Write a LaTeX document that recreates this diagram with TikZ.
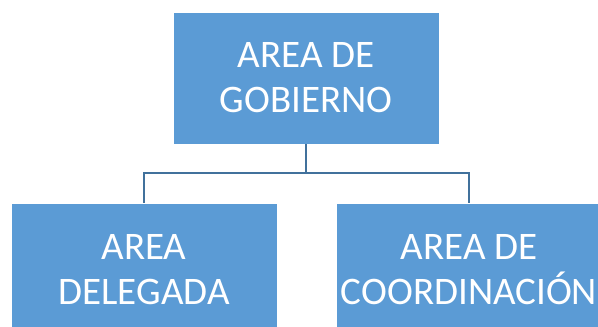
\documentclass[tikz,border=0pt]{standalone}
\usepackage{fontspec}
\setmainfont{Carlito}
\usetikzlibrary{positioning}

\definecolor{boxblue}{HTML}{5B9BD5}
\definecolor{linkblue}{HTML}{41719C}

\tikzset{
	area/.style={rectangle, fill=boxblue, draw=white, line width=0.6pt, text=white,
		minimum width=266pt, minimum height=132pt, align=center,
		font=\fontsize{39}{45}\selectfont},
	link/.style={draw=linkblue, line width=2pt}
}

\begin{document}
\begin{tikzpicture}[x=1pt, y=1pt]
	\useasboundingbox (0,0) rectangle (598,-327);
	\node[area] (gob) at (306,-78) {AREA DE\\GOBIERNO};
		\node[area, below=59pt of gob, xshift=-162pt] (del) {AREA\\DELEGADA};
		\node[area, below=59pt of gob, xshift=163pt] (coord) {AREA DE\\COORDINACIÓN};

	\draw[link] (gob.south) -- ++(0,-29) -| (del.north);
	\draw[link] (gob.south) -- ++(0,-29) -| (coord.north);
\end{tikzpicture}
\end{document}
